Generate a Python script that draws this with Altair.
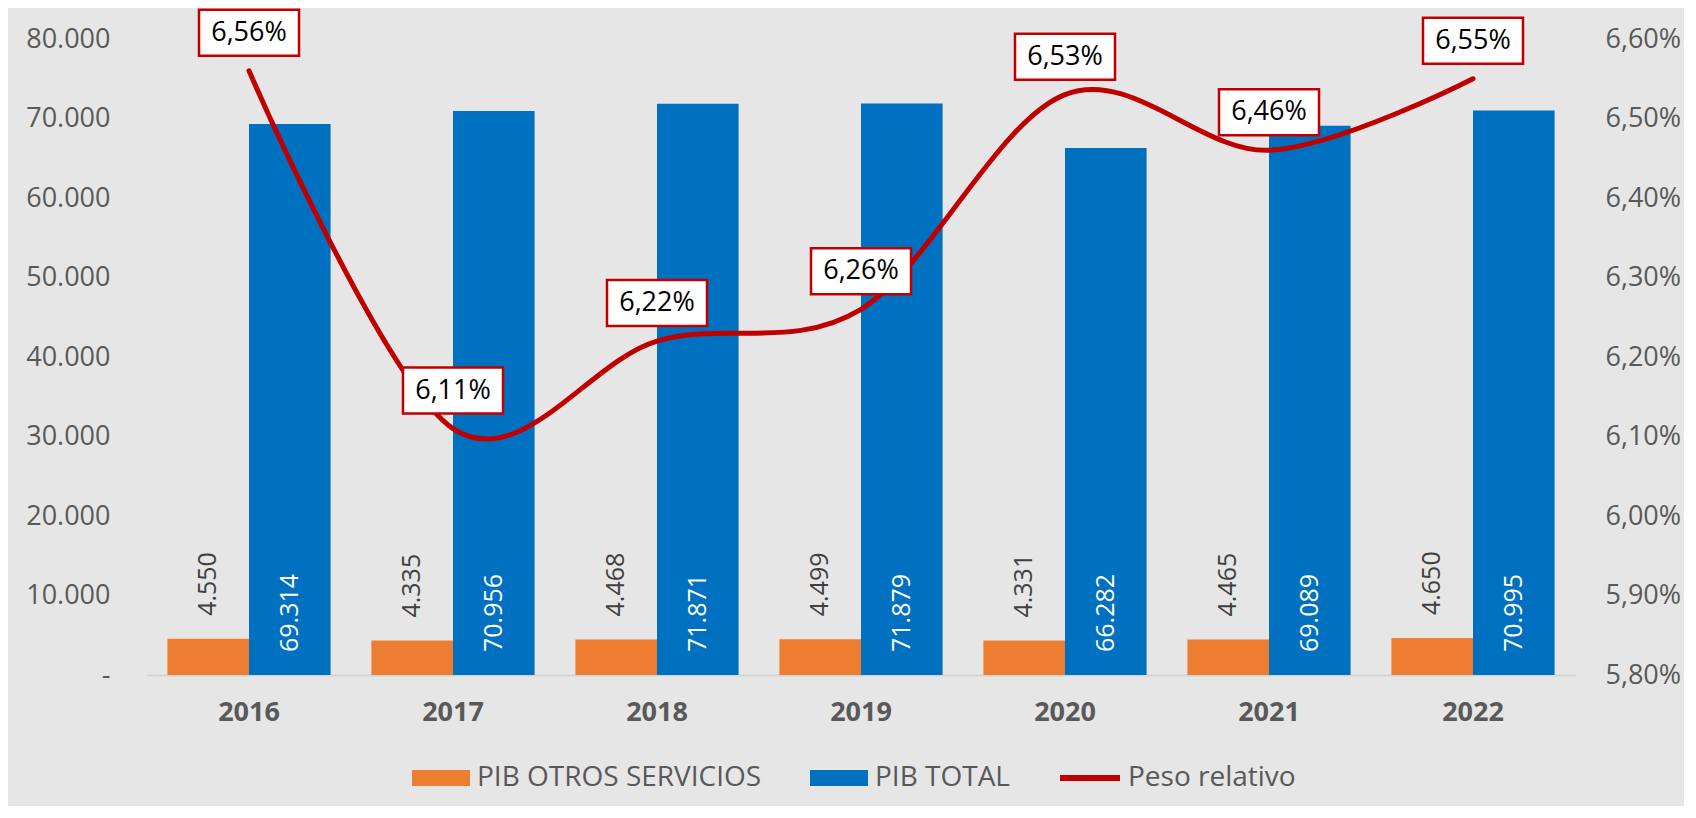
import altair as alt
import pandas as pd

years = ["2016", "2017", "2018", "2019", "2020", "2021", "2022"]
otros = [4550, 4335, 4468, 4499, 4331, 4465, 4650]
total = [69314, 70956, 71871, 71879, 66282, 69089, 70995]
peso = [6.56, 6.11, 6.22, 6.26, 6.53, 6.46, 6.55]
series = ["PIB OTROS SERVICIOS", "PIB TOTAL"]
line_name = "Peso relativo"
left_ticks = [0, 10000, 20000, 30000, 40000, 50000, 60000, 70000, 80000]
right_ticks = [5.8, 5.9, 6.0, 6.1, 6.2, 6.3, 6.4, 6.5, 6.6]

FONT = "Open Sans"
GREY = "#595959"
ORANGE = "#ED7D31"
BLUE = "#0070C0"
RED = "#C00000"

bars_df = pd.DataFrame(
    {"year": years * 2,
     "serie": [series[0]] * len(years) + [series[1]] * len(years),
     "value": otros + total}
)
line_df = pd.DataFrame({"year": years, "pct": peso, "serie": [line_name] * len(years)})

x_enc = alt.X("year:N", title=None, sort=years,
              scale=alt.Scale(paddingInner=0.2, paddingOuter=0.1),
              axis=alt.Axis(labelFont=FONT, labelFontSize=27, labelFontWeight="bold",
                            labelColor=GREY, labelPadding=24, ticks=False,
                            domainColor="#D4D4D4", domainWidth=2, labelAngle=0, grid=False))
xoff = alt.XOffset("serie:N", scale=alt.Scale(domain=series, paddingInner=0, paddingOuter=0))

y_left = alt.Y("value:Q", title=None,
               scale=alt.Scale(domain=[0, 80000], nice=False),
               axis=alt.Axis(values=left_ticks, grid=False, domain=False, ticks=False,
                             labelFont=FONT, labelFontSize=27, labelColor=GREY, labelPadding=37,
                             labelLimit=400,
                             labelExpr="datum.value == 0 ? '-\u00a0\u00a0' : replace(format(datum.value, ',.0f'), ',', '.')"))

bar_legend = alt.Legend(
    title=None, orient="none", direction="horizontal", legendX=265, legendY=710,
    labelFont=FONT, labelFontSize=28, labelColor=GREY, labelLimit=500, labelOffset=7,
    symbolSize=3364, symbolStrokeWidth=0, columnPadding=48,
    symbolType="M-1,-0.28H1V0.28H-1Z",
)

line_legend = alt.Legend(
    title=None, orient="none", direction="horizontal", legendX=910, legendY=706,
    labelFont=FONT, labelFontSize=28, labelColor=GREY, labelLimit=500, labelOffset=5,
    symbolSize=3600, symbolStrokeWidth=6, symbolType="M-1,0H1",
)

bars = alt.Chart(bars_df).mark_bar().encode(
    x=x_enc, xOffset=xoff, y=y_left,
    color=alt.Color("serie:N", scale=alt.Scale(domain=series, range=[ORANGE, BLUE]), legend=bar_legend),
)

lab_o = alt.Chart(bars_df).transform_filter(alt.datum.serie == series[0]).transform_calculate(
    label="replace(format(datum.value, ','), ',', '.')"
).mark_text(angle=270, align="left", baseline="middle", yOffset=-23,
            font=FONT, fontSize=25, color="#404040").encode(
    x=alt.X("year:N", sort=years), xOffset=xoff, y=alt.Y("value:Q"), text="label:N")

lab_b = alt.Chart(bars_df).transform_filter(alt.datum.serie == series[1]).transform_calculate(
    label="replace(format(datum.value, ','), ',', '.')", zero="0"
).mark_text(angle=270, align="left", baseline="middle", yOffset=-23,
            font=FONT, fontSize=25, color="white").encode(
    x=alt.X("year:N", sort=years), xOffset=xoff, y=alt.Y("zero:Q"), text="label:N")

left_layer = alt.layer(bars, lab_o, lab_b)

y_right = alt.Y("pct:Q", title=None,
                scale=alt.Scale(domain=[5.8, 6.6], nice=False, zero=False),
                axis=alt.Axis(orient="right", values=right_ticks, grid=False, domain=False, ticks=False,
                              labelFont=FONT, labelFontSize=27, labelColor=GREY, labelPadding=30,
                              labelLimit=400,
                              labelExpr="replace(format(datum.value, '.2f'), '.', ',') + '%'"))

line = alt.Chart(line_df).mark_line(interpolate="cardinal", tension=0, strokeWidth=5,
                                    strokeCap="round").encode(
    x=alt.X("year:N", sort=years), y=y_right,
    stroke=alt.Stroke("serie:N", scale=alt.Scale(domain=[line_name], range=[RED]), legend=line_legend))

boxes = alt.Chart(line_df).mark_point(
    shape="M-1,-0.46H1V0.46H-1Z", size=10000, filled=True, fill="white", stroke=RED,
    strokeWidth=2.5, opacity=1, fillOpacity=1, strokeOpacity=1, yOffset=-38).encode(
    x=alt.X("year:N", sort=years), y=alt.Y("pct:Q"))

texts = alt.Chart(line_df).transform_calculate(
    label="replace(format(datum.pct, '.2f'), '.', ',') + '%'"
).mark_text(font=FONT, fontSize=27, color="black", baseline="middle", yOffset=-38).encode(
    x=alt.X("year:N", sort=years), y=alt.Y("pct:Q"), text="label:N")

right_layer = alt.layer(line, boxes, texts)

chart = alt.layer(left_layer, right_layer).resolve_scale(y="independent").properties(
    width=1428, height=636,
    padding={"left": 139, "top": 31, "right": 109, "bottom": 131},
    autosize=alt.AutoSizeParams(type="none"),
    background="#E6E6E6",
).configure_view(stroke=None)

chart.save("out.html", embed_options={"renderer": "svg", "actions": False})
